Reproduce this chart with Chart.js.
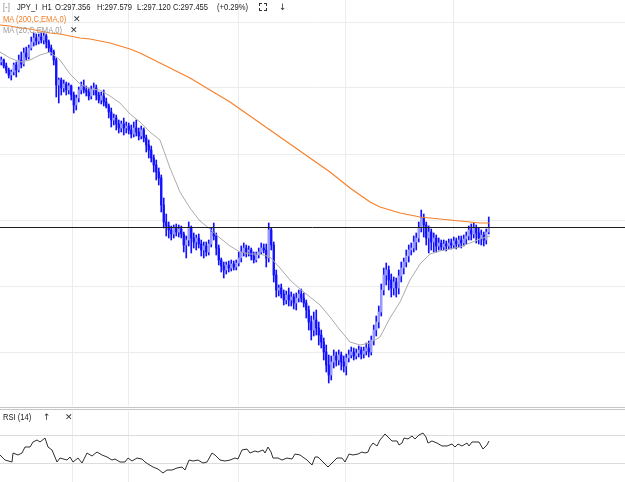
<!DOCTYPE html>
<html><head><meta charset="utf-8">
<script src="https://cdn.jsdelivr.net/npm/chart.js@4.4.1/dist/chart.umd.min.js"></script>
<style>
html,body{margin:0;padding:0;background:#fff;width:625px;height:482px;overflow:hidden;position:relative;}
#main{position:absolute;left:0;top:0;}
#rsi{position:absolute;left:0;top:411px;}
.t{position:absolute;font-family:"Liberation Sans",Arial,sans-serif;font-size:9.5px;line-height:10px;white-space:nowrap;color:#222;transform:scaleX(0.8);transform-origin:left center;}
.x{position:absolute;font-family:"DejaVu Sans",sans-serif;font-size:9px;line-height:10px;color:#333;}
.sep{position:absolute;left:0;width:625px;height:1px;background:#c6c6c6;}
.c{position:absolute;width:2px;height:2px;border-color:#333;border-style:solid;border-width:0;}
</style></head><body>
<canvas id="main" width="625" height="406"></canvas>
<div class="sep" style="top:407px"></div><div class="sep" style="top:409px"></div>
<canvas id="rsi" width="625" height="71"></canvas>

<div class="t" style="left:3px;top:2px;color:#888">[-]</div>
<div class="t" style="left:17px;top:2px">JPY_I</div>
<div class="t" style="left:42px;top:2px">H1</div>
<div class="t" style="left:55px;top:2px">O:297.356</div>
<div class="t" style="left:97px;top:2px">H:297.579</div>
<div class="t" style="left:137px;top:2px">L:297.120</div>
<div class="t" style="left:173px;top:2px">C:297.455</div>
<div class="t" style="left:217px;top:2px">(+0.29%)</div>
<div class="c" style="left:259px;top:3px;border-left-width:1px;border-top-width:1px"></div>
<div class="c" style="left:264px;top:3px;border-right-width:1px;border-top-width:1px"></div>
<div class="c" style="left:259px;top:8px;border-left-width:1px;border-bottom-width:1px"></div>
<div class="c" style="left:264px;top:8px;border-right-width:1px;border-bottom-width:1px"></div>
<div class="x" style="left:279px;top:2px">↓</div>
<div class="t" style="left:3px;top:14px;color:#f07f26">MA (200,C,EMA,0)</div>
<div class="x" style="left:73px;top:14px">✕</div>
<div class="t" style="left:3px;top:25px;color:#9a9a9a">MA (20,C,EMA,0)</div>
<div class="x" style="left:70px;top:25px">✕</div>
<div class="t" style="left:3px;top:412px">RSI (14)</div>
<div class="x" style="left:43px;top:412px">↑</div>
<div class="x" style="left:65px;top:412px">✕</div>

<script>
// ---- price bars (H1) ----
const barOpen = [
299.11,299.13,299.07,299.03,298.98,299.01,299.08,299.03,299.13,299.09,
299.20,299.16,299.25,299.31,299.35,299.32,299.36,299.33,299.37,299.31,
299.25,299.21,299.13,298.88,298.93,298.85,298.89,298.83,298.87,298.78,
298.68,298.75,298.83,298.87,298.83,298.81,298.77,298.83,298.85,298.78,
298.73,298.77,298.71,298.67,298.61,298.53,298.55,298.49,298.45,298.49,
298.45,298.47,298.43,298.39,298.45,298.41,298.37,298.43,298.35,298.28,
298.23,298.15,298.08,298.01,297.95,297.68,297.51,297.47,297.43,297.39,
297.45,297.41,297.44,297.39,297.28,297.33,297.45,297.35,297.31,297.35,
297.29,297.23,297.27,297.21,297.29,297.41,297.37,297.25,297.13,297.07,
297.03,297.08,297.05,297.09,297.06,297.10,297.15,297.21,297.25,297.21,
297.23,297.17,297.13,297.18,297.21,297.25,297.23,297.15,297.43,297.28,
296.98,296.83,296.85,296.79,296.73,296.78,296.73,296.76,296.70,296.75,
296.79,296.75,296.70,296.63,296.51,296.43,296.53,296.45,296.38,296.31,
296.21,296.08,295.98,296.11,296.17,296.13,296.18,296.11,296.07,296.15,
296.18,296.21,296.17,296.20,296.23,296.19,296.22,296.25,296.21,296.33,
296.43,296.51,296.61,296.83,296.98,297.03,296.93,296.85,296.91,296.85,
296.97,297.05,297.11,297.17,297.23,297.25,297.31,297.35,297.45,297.55,
297.48,297.35,297.41,297.31,297.35,297.27,297.30,297.26,297.29,297.27,
297.30,297.28,297.32,297.29,297.33,297.30,297.34,297.37,297.43,297.39,
297.45,297.40,297.35,297.38,297.33,297.41];
const barHigh = [
299.16,299.14,299.10,299.05,299.03,299.10,299.11,299.18,299.21,299.25,
299.26,299.28,299.36,299.40,299.39,299.39,299.40,299.40,299.39,299.33,
299.28,299.23,299.15,298.95,298.95,298.93,298.91,298.90,298.88,298.81,
298.78,298.86,298.91,298.93,298.87,298.85,298.87,298.90,298.88,298.81,
298.81,298.83,298.75,298.69,298.65,298.59,298.58,298.53,298.52,298.55,
298.51,298.50,298.48,298.51,298.53,298.45,298.47,298.45,298.38,298.33,
298.27,298.18,298.13,298.05,297.98,297.75,297.59,297.51,297.47,297.48,
297.49,297.48,297.47,297.41,297.37,297.51,297.47,297.40,297.38,297.39,
297.33,297.31,297.31,297.33,297.45,297.50,297.40,297.28,297.15,297.11,
297.11,297.12,297.13,297.12,297.13,297.21,297.27,297.30,297.28,297.27,
297.25,297.21,297.21,297.25,297.30,297.29,297.29,297.50,297.45,297.31,
297.03,296.88,296.89,296.83,296.82,296.85,296.81,296.79,296.80,296.83,
296.84,296.80,296.73,296.67,296.57,296.61,296.63,296.51,296.43,296.35,
296.28,296.18,296.17,296.23,296.21,296.23,296.21,296.17,296.19,296.23,
296.26,296.25,296.24,296.27,296.26,296.26,296.30,296.32,296.37,296.48,
296.57,296.67,296.89,297.05,297.10,297.07,296.99,296.96,296.95,297.03,
297.11,297.15,297.23,297.28,297.30,297.37,297.40,297.51,297.63,297.59,
297.51,297.47,297.44,297.40,297.38,297.35,297.33,297.33,297.32,297.34,
297.34,297.36,297.35,297.37,297.37,297.38,297.41,297.47,297.49,297.50,
297.48,297.45,297.43,297.41,297.44,297.56];
const barLow = [
299.08,299.05,299.00,298.95,298.93,298.98,298.96,299.01,299.05,299.07,
299.13,299.14,299.23,299.27,299.28,299.29,299.30,299.29,299.25,299.21,
299.18,299.08,298.76,298.70,298.78,298.81,298.78,298.79,298.73,298.60,
298.63,298.71,298.79,298.80,298.77,298.73,298.74,298.78,298.73,298.70,
298.69,298.67,298.65,298.55,298.46,298.48,298.43,298.40,298.41,298.38,
298.40,298.39,298.35,298.36,298.37,298.33,298.34,298.31,298.21,298.15,
298.11,298.01,297.93,297.88,297.61,297.45,297.37,297.35,297.33,297.35,
297.37,297.36,297.35,297.21,297.15,297.27,297.20,297.25,297.23,297.25,
297.17,297.15,297.17,297.18,297.26,297.33,297.18,297.08,297.01,296.95,
296.99,297.01,297.02,297.03,297.03,297.07,297.11,297.17,297.16,297.17,
297.13,297.10,297.11,297.15,297.19,297.20,297.06,297.11,297.23,296.91,
296.76,296.77,296.75,296.68,296.69,296.67,296.67,296.64,296.63,296.71,
296.71,296.66,296.55,296.43,296.33,296.37,296.38,296.28,296.25,296.13,
296.01,295.90,295.93,296.05,296.07,296.08,296.03,296.01,295.98,296.11,
296.15,296.13,296.14,296.16,296.14,296.15,296.18,296.16,296.18,296.28,
296.37,296.45,296.57,296.78,296.88,296.83,296.76,296.78,296.76,296.79,
296.91,296.99,297.06,297.11,297.18,297.21,297.23,297.31,297.41,297.36,
297.28,297.20,297.23,297.21,297.21,297.23,297.23,297.23,297.22,297.24,
297.24,297.25,297.24,297.26,297.25,297.27,297.29,297.33,297.33,297.35,
297.30,297.29,297.28,297.27,297.29,297.39];
const barClose = [
299.13,299.07,299.03,298.98,299.01,299.08,299.03,299.13,299.09,299.20,
299.16,299.25,299.31,299.35,299.32,299.36,299.33,299.37,299.31,299.25,
299.21,299.13,298.88,298.93,298.85,298.89,298.83,298.87,298.78,298.68,
298.75,298.83,298.87,298.83,298.81,298.77,298.83,298.85,298.78,298.73,
298.77,298.71,298.67,298.61,298.53,298.55,298.49,298.45,298.49,298.45,
298.47,298.43,298.39,298.45,298.41,298.37,298.43,298.35,298.28,298.23,
298.15,298.08,298.01,297.95,297.68,297.51,297.47,297.43,297.39,297.45,
297.41,297.44,297.39,297.28,297.33,297.45,297.35,297.31,297.35,297.29,
297.23,297.27,297.21,297.29,297.41,297.37,297.25,297.13,297.07,297.03,
297.08,297.05,297.09,297.06,297.10,297.15,297.21,297.25,297.21,297.23,
297.17,297.13,297.18,297.21,297.25,297.23,297.15,297.43,297.28,296.98,
296.83,296.85,296.79,296.73,296.78,296.73,296.76,296.70,296.75,296.79,
296.75,296.70,296.63,296.51,296.43,296.53,296.45,296.38,296.31,296.21,
296.08,295.98,296.11,296.17,296.13,296.18,296.11,296.07,296.15,296.18,
296.21,296.17,296.20,296.23,296.19,296.22,296.25,296.21,296.33,296.43,
296.51,296.61,296.83,296.98,297.03,296.93,296.85,296.91,296.85,296.97,
297.05,297.11,297.17,297.23,297.25,297.31,297.35,297.45,297.55,297.48,
297.35,297.41,297.31,297.35,297.27,297.30,297.26,297.29,297.27,297.30,
297.28,297.32,297.29,297.33,297.30,297.34,297.37,297.43,297.39,297.45,
297.40,297.35,297.38,297.33,297.41,297.455];

// ---- moving averages (sampled along the bar axis) ----
const maX = [0,4,8,12,16,20,24,28,32,36,40,44,48,52,56,60,64,68,72,76,80,84,88,92,96,
100,104,108,112,116,120,124,128,132,136,140,144,148,152,156,160,164,168,172,176,180,184,188,192,196];
const ma200Vals = [
299.48,299.47,299.45,299.44,299.42,299.40,299.39,299.37,299.35,299.34,
299.32,299.30,299.27,299.24,299.20,299.15,299.10,299.05,299.00,298.95,
298.89,298.83,298.77,298.71,298.64,298.57,298.50,298.43,298.36,298.29,
298.22,298.15,298.08,298.01,297.93,297.85,297.78,297.71,297.66,297.63,
297.60,297.58,297.56,297.55,297.54,297.53,297.52,297.51,297.50,297.50];
const ma20Vals = [
299.21,299.15,299.11,299.13,299.18,299.21,299.13,298.99,298.89,298.84,
298.83,298.77,298.70,298.59,298.51,298.41,298.33,298.05,297.81,297.65,
297.52,297.44,297.35,297.27,297.21,297.19,297.19,297.16,297.05,296.93,
296.84,296.76,296.68,296.56,296.43,296.31,296.28,296.30,296.36,296.55,
296.71,296.93,297.09,297.19,297.22,297.24,297.26,297.30,297.34,297.37];
const lastClose = 297.455;

// ---- RSI (14) ----
const rsiX = [0,2,4.8,5.2,7.2,8.8,10,12,13.2,14.8,16,18,19.2,20.8,22.8,24,26.8,28,29.2,31.2,
32.8,34.8,36.8,38.8,40.8,42.8,44.8,46,48,50,51.2,52.8,54.8,56.8,58,59.2,61.2,63.2,65.2,66.8,
68.8,70.8,72.8,74,75.6,77.2,79.2,81.2,82.8,84.8,86,88,90,92,94,95.2,96.8,98.8,100,102,
103.2,105.2,106,107.2,108.4,109.2,111.2,112.8,114.8,116.8,118,120,122.8,124.8,126,127.2,129.2,131.2,133.2,134.8,
136.8,138,139.6,141.2,143.2,144.8,146,147.2,148,149.2,150.8,152,154,155.2,156.8,158.8,159.6,160.8,161.6,163.2,
164.8,166,167.6,169.2,170.4,171.2,172.8,174.8,176.8,178.8,180.8,182,183.2,184.8,186.8,187.6,188.8,190.8,191.6,193.2,
194.8,195.6];
const rsiVals = [41.9,34.4,31.5,44.8,41.9,44.8,53.7,53.7,61.1,64.1,61.1,67.0,53.7,49.3,31.5,37.4,34.4,38.9,31.5,37.4,
30.0,44.8,40.4,46.3,41.9,38.9,34.4,35.9,31.5,31.5,37.4,33.0,37.4,35.9,31.5,28.5,24.1,21.1,15.2,19.6,
19.6,22.6,24.1,19.6,34.4,33.0,34.4,30.0,31.5,44.8,41.9,34.4,33.0,34.4,37.4,35.9,49.3,50.7,44.8,47.8,
46.3,49.3,44.8,53.7,46.3,37.4,37.4,34.4,37.4,35.9,43.3,41.9,34.4,27.0,38.9,38.9,31.5,24.1,31.5,37.4,
37.4,31.5,43.3,41.9,43.3,46.3,44.8,46.3,53.7,59.6,55.2,64.1,73.0,68.5,62.6,62.6,56.7,59.6,67.0,65.6,
70.0,65.6,71.5,74.4,68.5,59.6,62.6,59.6,55.2,55.2,58.1,53.7,58.1,55.2,59.6,55.2,61.1,61.1,61.1,50.7,
56.7,62.6];
const rsiLevels = [30, 70];

// ---- grid (tick) positions ----
const priceGrid = [296.21, 296.87, 297.53, 298.19, 298.85, 299.51];
const timeGrid = [28.8, 51.2, 95.2, 138, 181.2];

const BLUE = '#1010ff', UPFILL = '#9a9aff', GRID = '#ececec';

const wickData = barLow.map((l, i) => ({x: i + 0.5, y: [l, barHigh[i]]}));
const bodyData = barOpen.map((o, i) => ({x: i + 0.5, y: [o, barClose[i]]}));
const bodyColors = barOpen.map((o, i) => barClose[i] > o ? UPFILL : BLUE);

const xScale = (ticks) => ({
  type: 'linear', min: 0, max: 250, offset: false,
  grid: {color: GRID, drawTicks: false, lineWidth: 1, offset: false},
  border: {display: false},
  ticks: {display: false},
  afterBuildTicks: s => { s.ticks = ticks.map(v => ({value: v})); }
});

new Chart(document.getElementById('main'), {
  type: 'bar',
  data: {datasets: [
    {type: 'line', data: [{x: 0, y: lastClose}, {x: 250, y: lastClose}], borderColor: '#1e1e1e', borderWidth: 1, pointRadius: 0, order: 0},
    {type: 'line', data: maX.map((x, i) => ({x, y: ma200Vals[i]})), borderColor: '#f5812b', borderWidth: 1.2, pointRadius: 0, order: 1},
    {type: 'line', data: maX.map((x, i) => ({x, y: ma20Vals[i]})), borderColor: '#ababab', borderWidth: 1, pointRadius: 0, order: 1},
    {type: 'bar', data: bodyData, backgroundColor: bodyColors, barThickness: 1.6, grouped: false, order: 2},
    {type: 'bar', data: wickData, backgroundColor: BLUE, barThickness: 1, grouped: false, order: 3}
  ]},
  options: {
    responsive: false, animation: false, events: [],
    layout: {padding: 0},
    plugins: {legend: {display: false}, tooltip: {enabled: false}},
    scales: {
      x: xScale(timeGrid),
      y: {min: 295.67, max: 299.73, grid: {color: GRID, drawTicks: false}, border: {display: false}, ticks: {display: false},
          afterBuildTicks: s => { s.ticks = priceGrid.map(v => ({value: v})); }}
    }
  }
});

new Chart(document.getElementById('rsi'), {
  type: 'line',
  data: {datasets: [
    {data: rsiX.map((x, i) => ({x, y: rsiVals[i]})), borderColor: '#2e2e2e', borderWidth: 1, pointRadius: 0}
  ]},
  options: {
    responsive: false, animation: false, events: [],
    layout: {padding: 0},
    plugins: {legend: {display: false}, tooltip: {enabled: false}},
    scales: {
      x: xScale(timeGrid),
      y: {min: 1.9, max: 107, grid: {color: '#dcdcdc', drawTicks: false}, border: {display: false}, ticks: {display: false},
          afterBuildTicks: s => { s.ticks = rsiLevels.map(v => ({value: v})); }}
    }
  }
});
</script>
</body></html>
